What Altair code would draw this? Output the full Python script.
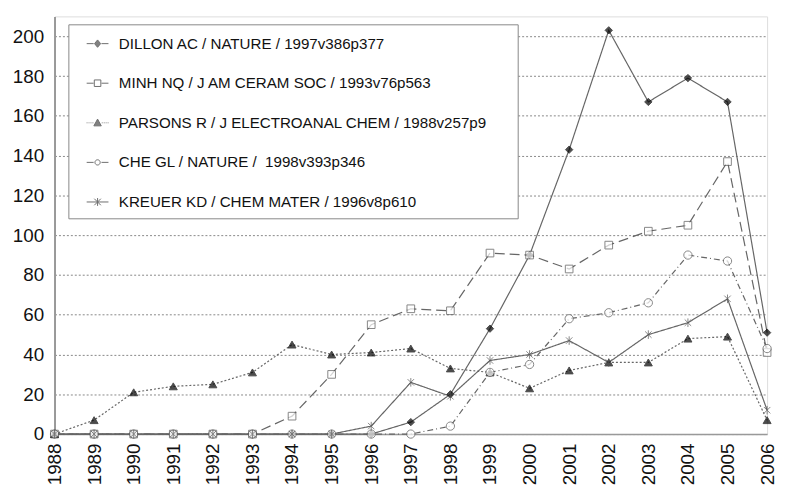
import altair as alt
import pandas as pd

years = list(range(1988, 2007))
series_names = [
    "DILLON AC / NATURE / 1997v386p377",
    "MINH NQ / J AM CERAM SOC / 1993v76p563",
    "PARSONS R / J ELECTROANAL CHEM / 1988v257p9",
    "CHE GL / NATURE / \u00a01998v393p346",
    "KREUER KD / CHEM MATER / 1996v8p610",
]
dillon = [0, 0, 0, 0, 0, 0, 0, 0, 0, 6, 20, 53, 90, 143, 203, 167, 179, 167, 51]
minh = [0, 0, 0, 0, 0, 0, 9, 30, 55, 63, 62, 91, 90, 83, 95, 102, 105, 137, 41]
parsons = [0, 7, 21, 24, 25, 31, 45, 40, 41, 43, 33, 31, 23, 32, 36, 36, 48, 49, 7]
che = [0, 0, 0, 0, 0, 0, 0, 0, 0, 0, 4, 31, 35, 58, 61, 66, 90, 87, 43]
kreuer = [0, 0, 0, 0, 0, 0, 0, 0, 4, 26, 19, 37, 40, 47, 36, 50, 56, 68, 12]
y_ticks = list(range(0, 201, 20))

all_values = [dillon, minh, parsons, che, kreuer]
rows = []
for name, vals in zip(series_names, all_values):
    for yr, v in zip(years, vals):
        rows.append({"series": name, "year": yr, "count": v})
df = pd.DataFrame(rows)

FONT = "Liberation Sans"

x_enc = alt.X("year:Q", scale=alt.Scale(domain=[1988, 2006], nice=False, zero=False),
              axis=alt.Axis(values=years, format="d", labelAngle=270, title=None, grid=False,
                            ticks=False, labelPadding=9, labelFontSize=19, labelFont=FONT,
                            labelColor="#111", domainColor="#999", domainWidth=1.5))
y_enc = alt.Y("count:Q", scale=alt.Scale(domain=[0, 210], nice=False),
              axis=alt.Axis(values=y_ticks, title=None, ticks=False, labelPadding=11,
                            labelFontSize=19, labelFont=FONT, labelColor="#111",
                            grid=True, gridDash=[2, 2], gridColor="#888", gridWidth=1,
                            domainColor="#999", domainWidth=2))

dash_scale = alt.Scale(domain=series_names,
                       range=[[1, 0], [10, 5], [2, 2], [6, 3, 1, 3], [1, 0]])
lines = alt.Chart(df).mark_line(stroke="#666", strokeWidth=1.2).encode(
    x=x_enc, y=y_enc,
    strokeDash=alt.StrokeDash("series:N", scale=dash_scale, legend=None),
)

asterisk = "M0,-1V1M-0.75,-0.75L0.75,0.75M-0.75,0.75L0.75,-0.75"
points = alt.Chart(df).mark_point(filled=False, strokeWidth=1).encode(
    x=x_enc, y=y_enc,
    shape=alt.Shape("series:N", scale=alt.Scale(domain=series_names,
                    range=["diamond", "square", "triangle-up", "circle", asterisk]), legend=None),
    fill=alt.Fill("series:N", scale=alt.Scale(domain=series_names,
                  range=["#000", "#fff", "#000", "#fff", "transparent"]), legend=None),
    stroke=alt.Stroke("series:N", scale=alt.Scale(domain=series_names,
                      range=["#000", "#555", "#000", "#555", "#555"]), legend=None),
    size=alt.Size("series:N", scale=alt.Scale(domain=series_names,
                  range=[55, 75, 80, 45, 110]), legend=None),
)

leg_line = "M-1,0H-0.36M0.36,0H1"
leg_dots = "M-1,0H-0.93M-0.82,0H-0.75M-0.64,0H-0.57M-0.46,0H-0.39M0.39,0H0.46M0.57,0H0.64M0.75,0H0.82M0.93,0H1"
leg_shapes = [
    leg_line + "M0,-0.34L0.28,0L0,0.34L-0.28,0Z",
    leg_line + "M-0.3,-0.3H0.3V0.3H-0.3Z",
    leg_dots + "M0,-0.34L0.34,0.28H-0.34Z",
    leg_line + "M-0.24,0A0.24,0.24,0,1,0,0.24,0A0.24,0.24,0,1,0,-0.24,0Z",
    "M-1,0H1M0,-0.36V0.36M-0.3,-0.3L0.3,0.3M-0.3,0.3L0.3,-0.3",
]
legend_cfg = alt.Legend(title=None, orient="none", legendX=14, legendY=8,
                        padding=8, symbolOffset=10, labelOffset=10,
                        strokeColor="#888", fillColor="#fff",
                        labelFontSize=15.3, labelFont=FONT, labelColor="#111",
                        labelLimit=700,
                        rowPadding=20, symbolSize=484, symbolStrokeWidth=1,
                        labelExpr="datum.label + '\u2800\u2800'")
legend_layer = alt.Chart(df).transform_filter("false").mark_point(filled=False).encode(
    x=x_enc, y=y_enc,
    shape=alt.Shape("series:N", scale=alt.Scale(domain=series_names, range=leg_shapes), legend=legend_cfg),
    fill=alt.Fill("series:N", scale=alt.Scale(domain=series_names,
                  range=["#000", "#fff", "#000", "#fff", "transparent"]), legend=legend_cfg),
    stroke=alt.Stroke("series:N", scale=alt.Scale(domain=series_names,
                      range=["#333", "#333", "#333", "#333", "#333"]), legend=legend_cfg),
)

chart = alt.layer(lines, points, legend_layer).resolve_scale(
    shape="independent", fill="independent", stroke="independent"
).properties(
    width=720, height=422,
    padding={"left": 4, "top": 6, "right": 0, "bottom": 0},
).configure_view(stroke="#aaa", strokeWidth=1.5).configure(background="white")

chart.save("out.html", embed_options={"renderer": "svg", "actions": False})
